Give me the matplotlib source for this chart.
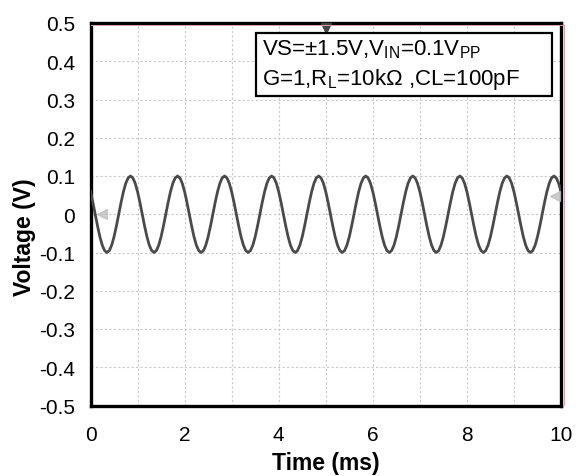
import numpy as np
import matplotlib
matplotlib.use('Agg')
import matplotlib.pyplot as plt
from matplotlib.lines import Line2D
from matplotlib.patches import Rectangle

plt.rcParams['font.family'] = ['Liberation Sans', 'DejaVu Sans']
plt.rcParams['mathtext.fontset'] = 'custom'
plt.rcParams['mathtext.rm'] = 'Liberation Sans'

# %% data read off the scope capture (0.05 ms steps)
time_ms = np.arange(0, 201) * 0.05
volts = [
    0.059, 0.031, 0.000, -0.031, -0.059, -0.081, -0.095, -0.100, -0.095, -0.081,
    -0.059, -0.031, 0.000, 0.031, 0.059, 0.081, 0.095, 0.100, 0.095, 0.081,
    0.059, 0.031, 0.000, -0.031, -0.059, -0.081, -0.095, -0.100, -0.095, -0.081,
    -0.059, -0.031, 0.000, 0.031, 0.059, 0.081, 0.095, 0.100, 0.095, 0.081,
    0.059, 0.031, 0.000, -0.031, -0.059, -0.081, -0.095, -0.100, -0.095, -0.081,
    -0.059, -0.031, 0.000, 0.031, 0.059, 0.081, 0.095, 0.100, 0.095, 0.081,
    0.059, 0.031, 0.000, -0.031, -0.059, -0.081, -0.095, -0.100, -0.095, -0.081,
    -0.059, -0.031, 0.000, 0.031, 0.059, 0.081, 0.095, 0.100, 0.095, 0.081,
    0.059, 0.031, 0.000, -0.031, -0.059, -0.081, -0.095, -0.100, -0.095, -0.081,
    -0.059, -0.031, 0.000, 0.031, 0.059, 0.081, 0.095, 0.100, 0.095, 0.081,
    0.059, 0.031, 0.000, -0.031, -0.059, -0.081, -0.095, -0.100, -0.095, -0.081,
    -0.059, -0.031, 0.000, 0.031, 0.059, 0.081, 0.095, 0.100, 0.095, 0.081,
    0.059, 0.031, 0.000, -0.031, -0.059, -0.081, -0.095, -0.100, -0.095, -0.081,
    -0.059, -0.031, 0.000, 0.031, 0.059, 0.081, 0.095, 0.100, 0.095, 0.081,
    0.059, 0.031, 0.000, -0.031, -0.059, -0.081, -0.095, -0.100, -0.095, -0.081,
    -0.059, -0.031, 0.000, 0.031, 0.059, 0.081, 0.095, 0.100, 0.095, 0.081,
    0.059, 0.031, 0.000, -0.031, -0.059, -0.081, -0.095, -0.100, -0.095, -0.081,
    -0.059, -0.031, 0.000, 0.031, 0.059, 0.081, 0.095, 0.100, 0.095, 0.081,
    0.059, 0.031, 0.000, -0.031, -0.059, -0.081, -0.095, -0.100, -0.095, -0.081,
    -0.059, -0.031, 0.000, 0.031, 0.059, 0.081, 0.095, 0.100, 0.095, 0.081,
    0.059,
]
xticks = [0, 2, 4, 6, 8, 10]
yticks = [-0.5, -0.4, -0.3, -0.2, -0.1, 0, 0.1, 0.2, 0.3, 0.4, 0.5]
yticklabels = ['-0.5', '-0.4', '-0.3', '-0.2', '-0.1', '0', '0.1', '0.2', '0.3', '0.4', '0.5']
trigger_t, trigger_v = 5, 0.487
marker_t = [0.25, 9.87]
marker_v = [0.0, 0.047]
note1 = r'VS=±1.5V,V$_{\mathrm{IN}}$=0.1V$_{\mathrm{PP}}$'
note2 = r'G=1,R$_{\mathrm{L}}$=10kΩ ,CL=100pF'

# %% figure
fig = plt.figure(figsize=(5.76, 4.77), dpi=100)
ax = fig.add_axes([90.5 / 576, 1 - 406.5 / 477, 470.5 / 576, 382.5 / 477])

ax.plot(time_ms, volts, color='#4a4a4a', lw=2.0, zorder=3)
ax.plot(marker_t, marker_v, ls='none', marker='<', ms=7, color='#c0c0c0', alpha=0.8, zorder=4)
ax.plot([trigger_t], [trigger_v], ls='none', marker='v', ms=7, color='#444444', clip_on=False, zorder=5)

ax.set_xlim(0, 10)
ax.set_ylim(-0.5, 0.5)
ax.set_xticks(xticks)
ax.set_xticks(np.arange(0, 11, 1), minor=True)
ax.set_yticks(yticks)
ax.set_yticklabels(yticklabels)
ax.tick_params(which='both', length=0)
ax.tick_params(axis='x', pad=14, labelsize=15)
ax.tick_params(axis='y', pad=11, labelsize=15)
ax.grid(True, which='both', color='#c8c8c8', ls=(0, (2, 2)), lw=0.8)
ax.set_axisbelow(True)
for s in ax.spines.values():
    s.set_linewidth(2.4)
    s.set_color('black')

ax.set_xlabel('Time (ms)', fontsize=16.5, fontweight='bold', va='center')
ax.set_ylabel('Voltage (V)', fontsize=16.5, fontweight='bold', va='center')
ax.xaxis.set_label_coords(0.5, -0.148)
ax.yaxis.set_label_coords(-0.140, 0.443)

# note box
ax.add_patch(Rectangle((0.352, 0.809), 0.629, 0.165, transform=ax.transAxes,
                       fill=True, facecolor='white', edgecolor='black', lw=1.6, zorder=6))
ax.text(0.365, 0.932, note1, transform=ax.transAxes, fontsize=16, va='center', zorder=7)
ax.text(0.365, 0.854, note2, transform=ax.transAxes, fontsize=16, va='center', zorder=7)

# faint red frame lines from the capture
fig.add_artist(Line2D([90.5 / 576, 563.5 / 576], [1 - 26.2 / 477] * 2, color='#d9a0a0', lw=0.7))
fig.add_artist(Line2D([563.5 / 576] * 2, [1 - 406 / 477, 1 - 26 / 477], color='#d9a0a0', lw=0.7))

fig.savefig('out.png', dpi=100)
